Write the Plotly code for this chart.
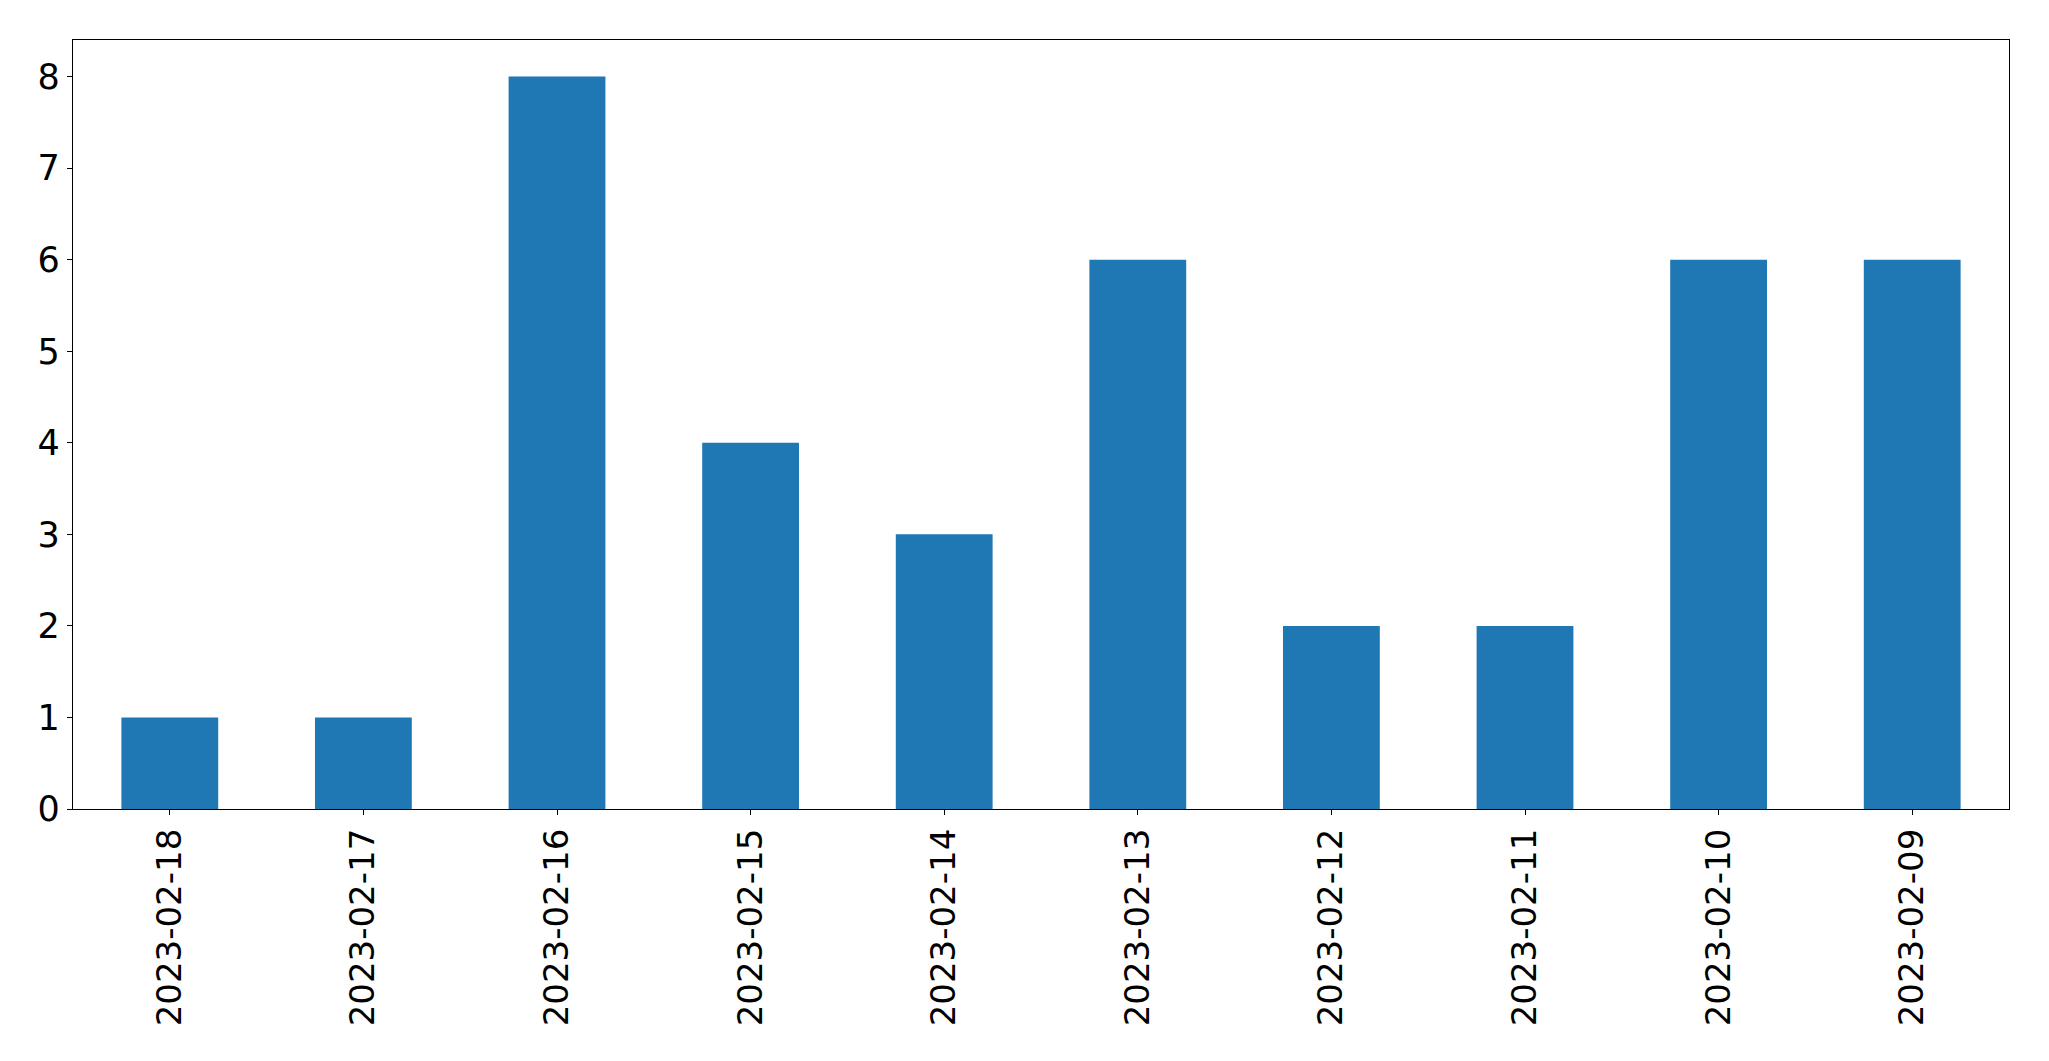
import plotly.graph_objects as go

dates = ["2023-02-18", "2023-02-17", "2023-02-16", "2023-02-15", "2023-02-14",
         "2023-02-13", "2023-02-12", "2023-02-11", "2023-02-10", "2023-02-09"]
counts = [1, 1, 8, 4, 3, 6, 2, 2, 6, 6]

fig = go.Figure(go.Bar(x=dates, y=counts, width=0.5, marker=dict(color="#1f77b4", line=dict(width=0))))

fig.update_layout(
    width=2041, height=1053,
    margin=dict(l=64.5, r=40, t=31.5, b=252, autoexpand=False),
    plot_bgcolor="white", paper_bgcolor="white",
    font=dict(family="DejaVu Sans", size=34, color="black"),
    showlegend=False,
    bargap=0.5,
)
fig.update_xaxes(
    type="category", range=[-0.5, 9.5], tickangle=-90,
    showline=True, linecolor="black", linewidth=1.3, mirror=True,
    ticks="outside", ticklen=5, tickcolor="black", showgrid=False,
    ticklabelstandoff=0,
)
fig.update_yaxes(
    range=[0, 8.4], dtick=1, tick0=0,
    showline=True, linecolor="black", linewidth=1.3, mirror=True,
    ticks="outside", ticklen=5, tickcolor="black", showgrid=False, zeroline=False,
    ticklabelstandoff=0, tickfont=dict(size=35),
)
fig.write_html("out.html")
